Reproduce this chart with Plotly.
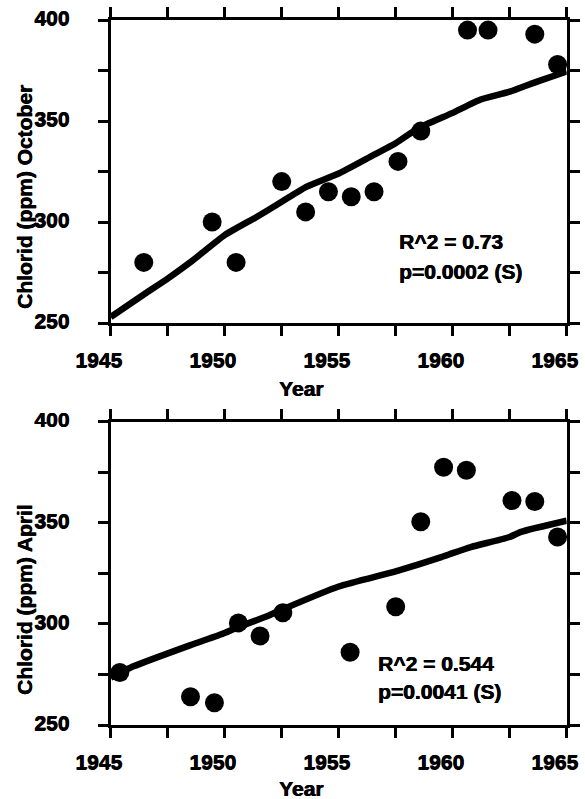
import plotly.graph_objects as go

# ---- data ----
oct_years = [1946.45, 1949.45, 1950.5, 1952.5, 1953.55, 1954.55, 1955.55, 1956.55,
             1957.6, 1958.6, 1960.65, 1961.55, 1963.6, 1964.6]
oct_chlorid = [280, 300, 280, 320, 305, 315, 312.5, 315, 330, 345, 395, 395, 393, 378]

oct_fit_years = [1945, 1946.5, 1947.5, 1948.6, 1950, 1951.4, 1952.5, 1953.6, 1955,
                 1956.5, 1957.5, 1958.5, 1960, 1961.2, 1962.5, 1963.7, 1965]
oct_fit = [253, 264.5, 272, 281, 293.5, 302.5, 310, 317.5, 324, 333, 339, 346.5,
           354, 360.5, 364.5, 369.5, 374.5]

april_years = [1945.4, 1948.5, 1949.55, 1950.6, 1951.55, 1952.55, 1955.5, 1957.5,
               1958.6, 1959.6, 1960.6, 1962.6, 1963.6, 1964.6]
april_chlorid = [276, 264, 261, 300.5, 294, 305.5, 286, 308.5, 350.5, 377.5, 376,
                 361, 360.5, 343]

april_fit_years = [1945, 1946, 1948.5, 1950, 1950.6, 1951.8, 1952.5, 1955, 1957.5,
                   1959.5, 1960, 1960.8, 1962.5, 1963, 1965]
april_fit = [273.5, 279, 289.5, 295.5, 298.5, 303.5, 307, 318.5, 326, 333, 335,
             338, 343, 345.5, 351]

x_tick_vals = [1945, 1947.5, 1950, 1952.5, 1955, 1957.5, 1960, 1962.5, 1965]
x_tick_text = ["1945", "", "1950", "", "1955", "", "1960", "", "1965"]
y_tick_vals = [250, 275, 300, 325, 350, 375, 400]
y_tick_text = ["250", "", "300", "", "350", "", "400"]

top_title = "Chlorid (ppm) October"
bottom_title = "Chlorid (ppm) April"
x_title = "Year"
top_stats = ["R^2 = 0.73", "p=0.0002 (S)"]
bottom_stats = ["R^2 = 0.544", "p=0.0041 (S)"]

# ---- figure ----
W, H = 585, 799
FONT = "Liberation Sans, Arial, sans-serif"
SHADOW = "0.6px 0 0 black, 0 0.4px 0 black"


def px(x):
    return x / W


def py(y):
    return 1 - y / H


def bold(t):
    return f"<b>{t}</b>" if t else ""


fig = go.Figure()

fig.add_trace(go.Scatter(x=oct_fit_years, y=oct_fit, mode="lines",
                         line=dict(color="black", width=6.5, shape="spline", smoothing=0.5),
                         xaxis="x", yaxis="y", cliponaxis=False, showlegend=False))
fig.add_trace(go.Scatter(x=oct_years, y=oct_chlorid, mode="markers",
                         marker=dict(color="black", size=19),
                         xaxis="x", yaxis="y", cliponaxis=False, showlegend=False))
fig.add_trace(go.Scatter(x=april_fit_years, y=april_fit, mode="lines",
                         line=dict(color="black", width=6.5, shape="spline", smoothing=0.5),
                         xaxis="x2", yaxis="y2", cliponaxis=False, showlegend=False))
fig.add_trace(go.Scatter(x=april_years, y=april_chlorid, mode="markers",
                         marker=dict(color="black", size=19),
                         xaxis="x2", yaxis="y2", cliponaxis=False, showlegend=False))

tickfont = dict(family=FONT, size=21, color="black", weight="bold", shadow=SHADOW)


def xax(anchor):
    return dict(range=[1945, 1965], tickmode="array", tickvals=x_tick_vals,
                ticktext=[bold(t) for t in x_tick_text], ticks="outside", ticklen=10,
                tickwidth=3, tickcolor="black", showline=True, linewidth=3.2,
                linecolor="black", mirror="ticks", showgrid=False, zeroline=False,
                tickfont=tickfont, ticklabelshift=-12, ticklabelstandoff=6,
                domain=[px(110.7), px(566.7)], anchor=anchor, automargin=False)


def yax(domain, anchor):
    return dict(range=[250, 400], tickmode="array", tickvals=y_tick_vals,
                ticktext=[bold(t) for t in y_tick_text], ticks="outside", ticklen=10,
                tickwidth=3, tickcolor="black", showline=True, linewidth=3.2,
                linecolor="black", mirror="ticks", showgrid=False, zeroline=False,
                tickfont=tickfont, ticklabelstandoff=24, ticklabelshift=-2,
                domain=domain, anchor=anchor, automargin=False)


fig.update_layout(
    width=W, height=H,
    margin=dict(l=0, r=0, t=0, b=0),
    paper_bgcolor="white", plot_bgcolor="white",
    font=dict(family=FONT, color="black", weight="bold"),
    xaxis=xax("y"),
    yaxis=yax([py(323), py(20)], "x"),
    xaxis2=xax("y2"),
    yaxis2=yax([py(725), py(421.7)], "x2"),
)

ann_font = dict(family=FONT, size=21, color="black", weight="bold", shadow=SHADOW)
annotations = [
    dict(text=bold(top_title), x=px(24), y=py(197), textangle=-90),
    dict(text=bold(bottom_title), x=px(24), y=py(600), textangle=-90),
    dict(text=bold(x_title), x=px(301.5), y=py(388)),
    dict(text=bold(x_title), x=px(301.5), y=py(788)),
]
for a in annotations:
    a.update(xref="paper", yref="paper", showarrow=False, xanchor="center",
             yanchor="middle", font=ann_font)

stat_font = dict(family=FONT, size=21, color="black", weight="bold", shadow=SHADOW)
for txt, (x0, y0) in zip(top_stats + bottom_stats,
                         [(397, 242), (397, 271), (375.7, 663), (375.7, 691)]):
    annotations.append(dict(text=bold(txt), x=px(x0), y=py(y0), xref="paper",
                            yref="paper", showarrow=False, xanchor="left",
                            yanchor="middle", font=stat_font))

fig.update_layout(annotations=annotations)

fig.write_html("out.html")
